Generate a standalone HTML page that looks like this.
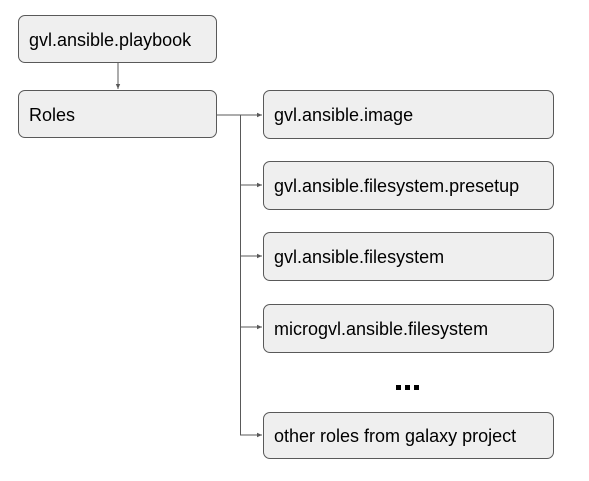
<!DOCTYPE html>
<html><head><style>
body{margin:0;background:#fff;width:589px;height:481px;overflow:hidden;position:relative;font-family:"Liberation Sans",Arial,sans-serif}
.b{position:absolute;box-sizing:border-box;background:#efefef;border:1px solid #595959;border-radius:7px;font-size:18px;color:#000;padding-left:10px;padding-top:2px;display:flex;align-items:center}
</style></head><body>
<svg width="589" height="481" style="position:absolute;left:0;top:0">
<defs><marker id="a" markerWidth="6" markerHeight="6" refX="5" refY="3" orient="auto"><path d="M0,0.8 L5,3 L0,5.2z" fill="#595959"/></marker></defs>
<g stroke="#595959" stroke-width="1" fill="none">
<line x1="118" y1="63" x2="118" y2="89" marker-end="url(#a)"/>
<line x1="217" y1="115" x2="262" y2="115" marker-end="url(#a)"/>
<line x1="240.5" y1="115" x2="240.5" y2="435"/>
<line x1="240" y1="185" x2="262" y2="185" marker-end="url(#a)"/>
<line x1="240" y1="256" x2="262" y2="256" marker-end="url(#a)"/>
<line x1="240" y1="327" x2="262" y2="327" marker-end="url(#a)"/>
<line x1="240" y1="435" x2="262" y2="435" marker-end="url(#a)"/>
</g>
<g fill="#000"><rect x="396" y="385" width="5" height="5"/><rect x="405" y="385" width="5" height="5"/><rect x="414" y="385" width="5" height="5"/></g>
</svg>
<div class="b" style="left:18px;top:15px;width:199px;height:48px">gvl.ansible.playbook</div>
<div class="b" style="left:18px;top:90px;width:199px;height:48px">Roles</div>
<div class="b" style="left:263px;top:90px;width:291px;height:49px">gvl.ansible.image</div>
<div class="b" style="left:263px;top:161px;width:291px;height:49px">gvl.ansible.filesystem.presetup</div>
<div class="b" style="left:263px;top:232px;width:291px;height:49px">gvl.ansible.filesystem</div>
<div class="b" style="left:263px;top:304px;width:291px;height:49px">microgvl.ansible.filesystem</div>
<div class="b" style="left:263px;top:412px;width:291px;height:47px">other roles from galaxy project</div>
</body></html>
